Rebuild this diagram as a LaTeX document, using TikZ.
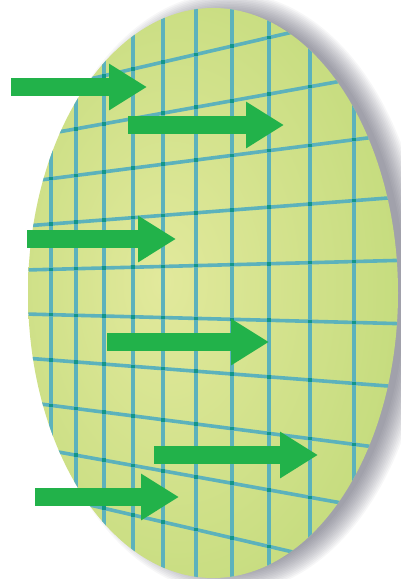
\documentclass[tikz,border=0pt]{standalone}
\usepackage{tikz}
\usepackage{xcolor}
\usetikzlibrary{arrows.meta}
\definecolor{leaf}{HTML}{22B24A}
\definecolor{waferlite}{HTML}{E2E99C}
\definecolor{waferdark}{HTML}{B2D36A}
\definecolor{gridline}{HTML}{5CB2BC}
\definecolor{gridknot}{HTML}{12968A}
\definecolor{dropgray}{HTML}{3C3C50}
\pgfdeclareradialshading{wafer}{\pgfpoint{-7bp}{1bp}}{color(0bp)=(waferlite); color(50bp)=(waferdark); color(75bp)=(waferdark)}

\begin{document}
\begin{tikzpicture}[
  x=1pt, y=-1pt,
  gridrule/.style={draw=gridline, line width=3.6pt},
  knot/.style={fill=gridknot},
  flow/.style={-{Triangle[length=38pt, width=44pt]}, line width=18pt, leaf}
]
\useasboundingbox (0,0) rectangle (400,579);

% Drop shadow, right of the disc
\foreach \k in {0,...,14}
  \fill[dropgray, opacity=0.045] (229,293) ellipse [x radius=176+1.6*\k, y radius=278+1.6*\k];

% Disc
\shade[shading=wafer] (213,293) ellipse [x radius=185, y radius=285];

% Grid, clipped to the disc
\begin{scope}
  \clip (213,293) ellipse [x radius=185, y radius=285];
  \foreach \vx in {51,76,104,133,163,196,232,269,310,354}
    \draw[gridrule] (\vx,0) -- (\vx,579);
  \foreach \i in {0,...,9}
    \draw[gridrule] (-10,{292+42.2*(\i-4.5)}) -- (410,{292+63.8*(\i-4.5)});
  \foreach \vx in {51,76,104,133,163,196,232,269,310,354}
    \foreach \i in {0,...,9} {
      \pgfmathsetmacro\yy{292+(42.7+20.6*\vx/400)*(\i-4.5)}
      \fill[knot] (\vx-1.8,\yy-1.8) rectangle (\vx+1.8,\yy+1.8);
    }
\end{scope}

% Arrows
\coordinate (tail1) at (11,87);   \coordinate (tip1) at (147,87);
\coordinate (tail2) at (128,125); \coordinate (tip2) at (284,125);
\coordinate (tail3) at (27,239);  \coordinate (tip3) at (176,239);
\coordinate (tail4) at (107,342); \coordinate (tip4) at (269,342);
\coordinate (tail5) at (154,455); \coordinate (tip5) at (318,455);
\coordinate (tail6) at (35,497);  \coordinate (tip6) at (179,497);

\foreach \n in {1,...,6}
  \draw[flow] (tail\n) -- (tip\n);

\end{tikzpicture}
\end{document}
